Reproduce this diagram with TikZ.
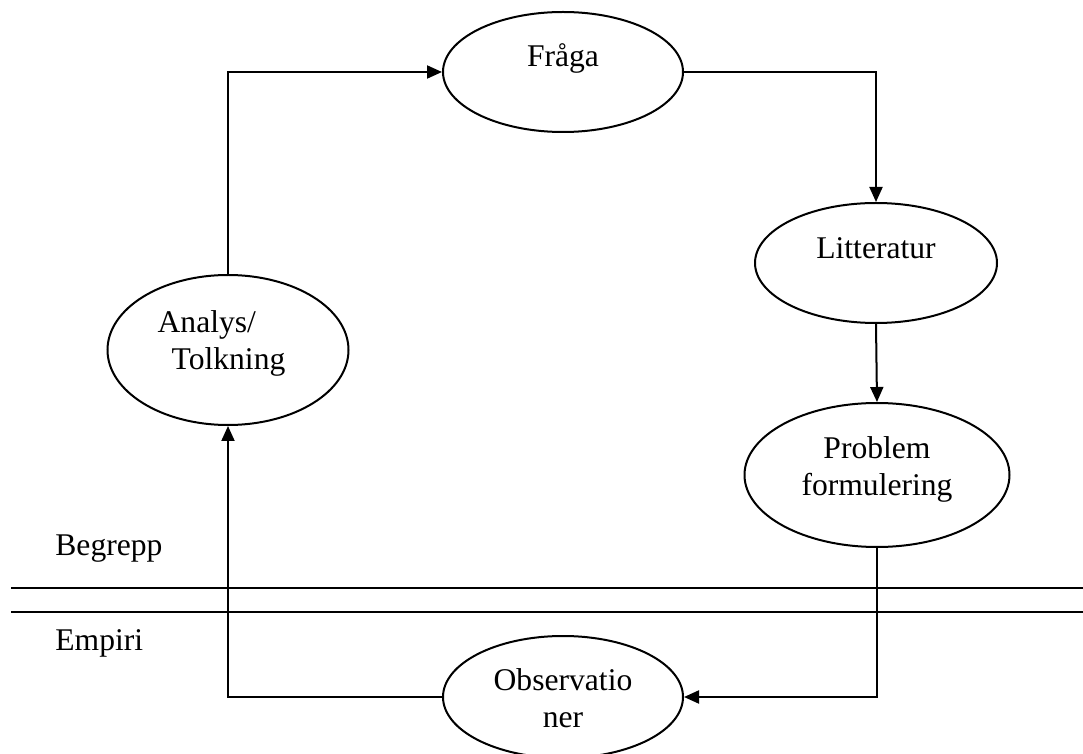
\documentclass[tikz,border=0pt]{standalone}
\usepackage{fontspec}
\setmainfont{Liberation Serif}
\usetikzlibrary{shapes.geometric,arrows.meta}
\newcommand{\ovaltext}[3][c]{\raisebox{#2}[0pt][0pt]{\begin{tabular}[b]{@{}#1@{}}#3\end{tabular}}}
\begin{document}
\begin{tikzpicture}[
		x=0.5pt, y=-0.5pt,
		oval/.style={ellipse, draw, line width=1pt, inner sep=0pt, font=\fontsize{15.8}{18.5}\selectfont},
		arrow/.style={-{Triangle[length=7.5pt,width=6.5pt]}, line width=1pt},
		lbl/.style={anchor=base west, inner sep=0pt, font=\fontsize{15.8}{18.5}\selectfont}
	]
	\useasboundingbox (0,0) rectangle (1083,754);

	% Cycle
	\node[oval, minimum width=120pt, minimum height=60pt] (fraga) at (563,72) {\ovaltext{2.5pt}{Fråga}};
	\node[oval, minimum width=121pt, minimum height=60pt] (litteratur) at (876,263) {\ovaltext{2pt}{Litteratur}};
	\node[oval, minimum width=132.5pt, minimum height=72pt] (problem) at (877,475) {\ovaltext{-10pt}{Problem\\formulering}};
	\node[oval, minimum width=120.5pt, minimum height=75pt] (analys) at (228,350) {\hspace*{-6.5pt}\ovaltext[l]{-10pt}{Analys/\\\hspace*{7pt}Tolkning}};
	\node[oval, minimum width=120pt, minimum height=61pt] (obs) at (563,697) {\ovaltext{-15.5pt}{Observatio\\ner}};

	\draw[arrow] (analys.north) |- (fraga.west);
	\draw[arrow] (fraga.east) -| (litteratur.north);
	\draw[arrow] (litteratur.south) -- (problem.north);
	\draw[arrow] (problem.south) |- (obs.east);
	\draw[arrow] (obs.west) -| (analys.south);

	% Levels
	\draw[line width=1pt] (11,588) -- (1083,588);
	\draw[line width=1pt] (11,612) -- (1083,612);
	\node[lbl] (begrepp) at (55,555) {Begrepp};
	\node[lbl] (empiri) at (55,650) {Empiri};

\end{tikzpicture}
\end{document}
